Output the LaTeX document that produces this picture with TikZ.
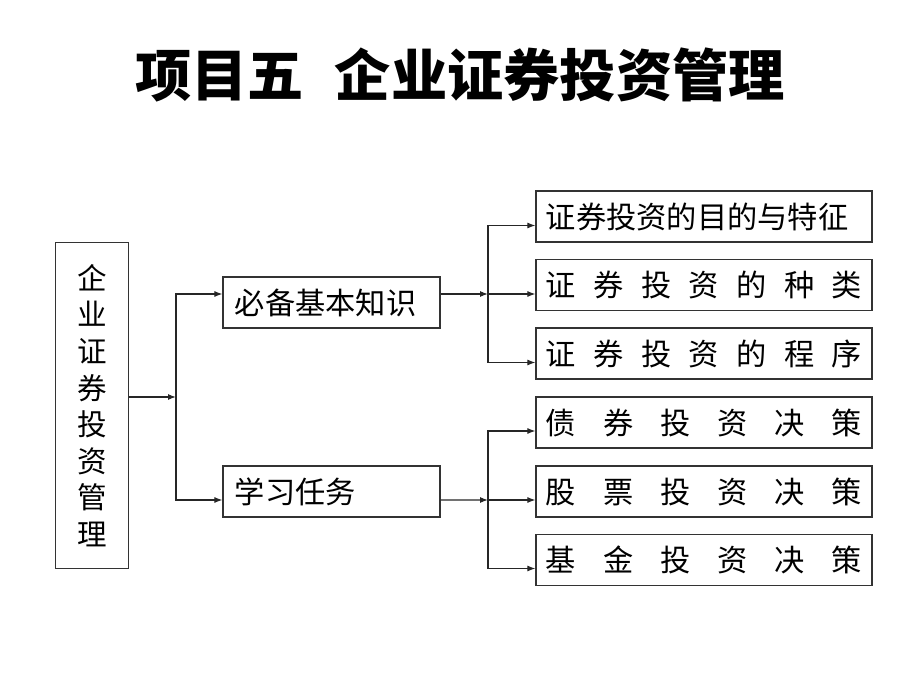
\documentclass[tikz,border=0pt]{standalone}
\usepackage{fontspec}
\usepackage{tikz}
\usetikzlibrary{arrows.meta, calc}
\newfontfamily\cjk{Noto Sans CJK SC}
\newcommand{\spreadtext}[1]{\makebox[7.9cm][s]{#1}}

\begin{document}
\begin{tikzpicture}[x=0.025cm, y=-0.025cm,
    box/.style={draw=black!80, line width=0.8pt, inner ysep=0pt, font=\cjk\fontsize{21.5}{26}\selectfont},
    link/.style={draw=black!85, line width=0.8pt, -{Latex[length=2mm, width=1.5mm]}}]
    \useasboundingbox (0,0) rectangle (920,690);

    % Title
    \node[font=\cjk\bfseries\fontsize{40}{48}\selectfont] (title) at (460,75) {项目五\hspace{0.55em}企业证券投资管理};

    % Topic box (vertical text)
    \node[box, inner xsep=0pt, minimum width=1.825cm, minimum height=8.15cm, align=center,
          font=\cjk\fontsize{21}{26}\selectfont] (topic) at (92,405.5)
          {企\\业\\证\\券\\投\\资\\管\\理};

    % Middle boxes
    \node[box, inner xsep=0.3cm, text width=4.825cm, minimum height=1.275cm, align=left] (basic) at (331.5,302.5) {必备基本知识};
    \node[box, inner xsep=0.3cm, text width=4.825cm, minimum height=1.275cm, align=left] (task) at (331.5,491.5) {学习任务};

    % Right boxes
    \foreach \i/\y/\txt in {
        1/216.5/{证券投资的目的与特征},
        2/285/{\spreadtext{证\hfill 券\hfill 投\hfill 资\hfill 的\hfill 种\hfill 类}},
        3/353.5/{\spreadtext{证\hfill 券\hfill 投\hfill 资\hfill 的\hfill 程\hfill 序}},
        4/422.5/{\spreadtext{债\hfill 券\hfill 投\hfill 资\hfill 决\hfill 策}},
        5/491.5/{\spreadtext{股\hfill 票\hfill 投\hfill 资\hfill 决\hfill 策}},
        6/560/{\spreadtext{基\hfill 金\hfill 投\hfill 资\hfill 决\hfill 策}}
    } {
        \node[box, inner xsep=0.25cm, text width=7.9cm, minimum height=1.275cm, align=left] (r\i) at (704,\y) {\txt};
    }

    % Forks
    \coordinate (forkA) at (176,397);
    \coordinate (forkB) at (488,294);
    \coordinate (forkC) at (488,500);

    % Connectors
    \draw[link] ($(topic.east)+(0,-8.5)$) -- (forkA);
    \draw[link] (forkA) |- ($(basic.west)+(0,-8.5)$);
    \draw[link] (forkA) |- ($(task.west)+(0,8.5)$);

    \draw[link] ($(basic.east)+(0,-8.5)$) -- (forkB);
    \foreach \j in {1,2,3}
        \draw[link] (forkB) |- ($(r\j.west)+(0,9)$);

    \draw[link] ($(task.east)+(0,8.5)$) -- (forkC);
    \foreach \j in {4,5,6}
        \draw[link] (forkC) |- ($(r\j.west)+(0,8.5)$);
\end{tikzpicture}
\end{document}
